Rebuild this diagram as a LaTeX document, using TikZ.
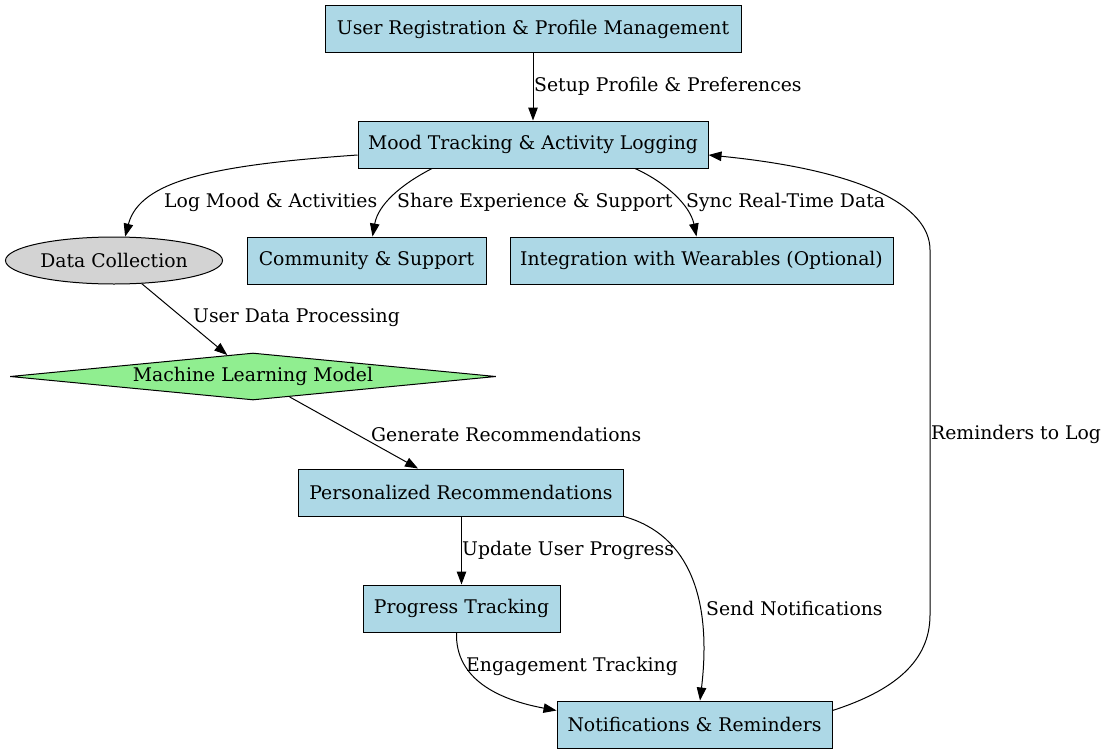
\documentclass[tikz,border=0pt]{standalone}
\usepackage{fontspec}
\setmainfont{DejaVu Serif}
\usetikzlibrary{shapes.geometric,arrows.meta,calc}
\definecolor{boxblue}{HTML}{ADD8E6}
\definecolor{ellgrey}{HTML}{D3D3D3}
\definecolor{diagreen}{HTML}{90EE90}
\tikzset{
  base/.style={draw=black,line width=1pt,inner sep=0pt,minimum height=47pt,
    font=\fontsize{18.8}{22}\selectfont},
  bluebox/.style={base,rectangle,fill=boxblue},
  greyell/.style={base,ellipse,fill=ellgrey},
  greendia/.style={base,diamond,fill=diagreen,shape aspect=10.3},
  conn/.style={line width=1pt,-{Triangle[length=13pt,width=9.5pt]}},
  lbl/.style={anchor=west,inner sep=0pt,font=\fontsize{18.8}{22}\selectfont}
}
\begin{document}
\begin{tikzpicture}[x=1pt,y=-1pt]
\useasboundingbox (0,0) rectangle (1105,755);
% nodes
\node[bluebox,minimum width=416pt] (n1) at (533,29) {User Registration \& Profile Management};
\node[bluebox,minimum width=350pt] (n2) at (533,144.5) {Mood Tracking \& Activity Logging};
\node[greyell,minimum width=217pt] (n3) at (114,260.5) {Data Collection};
\node[bluebox,minimum width=239pt] (n4) at (366.5,260.5) {Community \& Support};
\node[bluebox,minimum width=383pt] (n5) at (701.5,260.5) {Integration with Wearables (Optional)};
\node[greendia,minimum width=486pt] (n6) at (253,376.5) {Machine Learning Model};
\node[bluebox,minimum width=325pt] (n7) at (461,492.5) {Personalized Recommendations};
\node[bluebox,minimum width=197pt] (n8) at (461.5,608.5) {Progress Tracking};
\node[bluebox,minimum width=275pt] (n9) at (694.5,724.5) {Notifications \& Reminders};
% connectors
\draw[conn] (n1.south) -- (n2.north);
\draw[conn] ($(n2.west)+(0,10.5)$) .. controls (215,165) and (140,180) .. (n3.65);
\draw[conn] ($(n2.south)+(-101,0)$) .. controls (400,185) and (378,205) .. ($(n4.north)+(6,0)$);
\draw[conn] ($(n2.south)+(102,0)$) .. controls (665,182) and (690,205) .. ($(n5.north)+(-5,0)$);
\draw[conn] (n3) -- (n6);
\draw[conn] (n6) -- (n7);
\draw[conn] ($(n7.south)+(0.5,0)$) -- (n8.north);
\draw[conn] (n7.south east) .. controls (690,535) and (712,600) .. ($(n9.north)+(5.5,0)$);
\draw[conn] ($(n8.south)+(-5,0)$) .. controls (455,680) and (500,700) .. ($(n9.west)+(0,-14)$);
\coordinate (r1) at (930,615);
\coordinate (r2) at (930,250);
\draw[conn] ($(n9.east)+(0,-14)$) .. controls (893,691) and (930,662) .. (r1) -- (r2)
  .. controls (930,205) and (860,170) .. ($(n2.east)+(0,10.5)$);
% labels
\node[lbl] (l12) at (534,86) {Setup Profile \& Preferences};
\node[lbl] (l23) at (164,202) {Log Mood \& Activities};
\node[lbl] (l24) at (397,202) {Share Experience \& Support};
\node[lbl] (l25) at (686,202) {Sync Real-Time Data};
\node[lbl] (l36) at (193,318) {User Data Processing};
\node[lbl] (l67) at (371,434) {Generate Recommendations};
\node[lbl] (l78) at (462,550) {Update User Progress};
\node[lbl] (l79) at (706,608) {Send Notifications};
\node[lbl] (l89) at (466,666) {Engagement Tracking};
\node[lbl] (l92) at (931,434) {Reminders to Log};
\end{tikzpicture}
\end{document}
